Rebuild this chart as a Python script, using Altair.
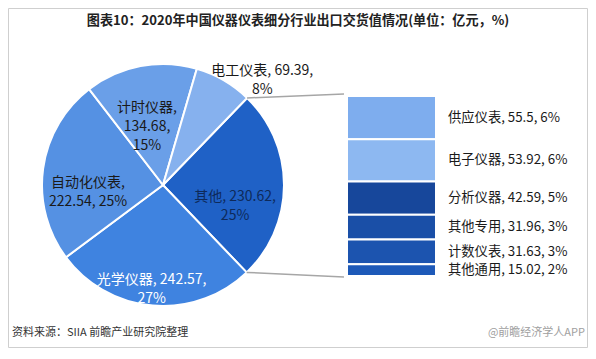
import math
import altair as alt
import pandas as pd

# ---------------- data ----------------
TITLE = "图表10：2020年中国仪器仪表细分行业出口交货值情况(单位：亿元，%)"
SOURCE = "资料来源：SIIA 前瞻产业研究院整理"
CREDIT = "@前瞻经济学人APP"

pie_names = ["其他", "光学仪器", "自动化仪表", "计时仪器", "电工仪表"]
pie_values = [230.62, 242.57, 222.54, 134.68, 69.39]
pie_pcts = [25, 27, 25, 15, 8]

bar_names = ["供应仪表", "电子仪器", "分析仪器", "其他专用", "计数仪表", "其他通用"]
bar_values = [55.5, 53.92, 42.59, 31.96, 31.63, 15.02]
bar_pcts = [6, 6, 5, 3, 3, 2]

# ---------------- layout / style ----------------
W, H = 580, 340
CX, CY, R = 155, 177, 121
START_DEG = 44
BAR_X0, BAR_X1 = 339, 428
BAR_TOP, BAR_BOT = 88, 268
BAR_LABEL_X = 440
FONT = "Noto Sans CJK SC"

PIE_COLORS = ["#1F61C6", "#3F83E0", "#5591E3", "#6A9FE8", "#86B1EE"]
BAR_COLORS = ["#7EADEE", "#8DB8F1", "#17479B", "#1A4FA7", "#1C54AF", "#1D59B8"]

LABEL_FMT = {
    "其他": "{n}, {v},\n{p}%",
    "光学仪器": "{n}, {v},\n{p}%",
    "自动化仪表": "{n},\n{v}, {p}%",
    "计时仪器": "{n},\n{v},\n{p}%",
    "电工仪表": "{n}, {v},\n{p}%",
}
# (radius, angular shift in degrees) of each label relative to slice middle
LABEL_POLAR = {
    "其他": (73, 9),
    "光学仪器": (96, 2),
    "自动化仪表": (75, -6),
    "计时仪器": (79, -1),
    "电工仪表": (151, 11),
}
LABEL_COLOR = {
    "其他": "#0E2A5A",
    "光学仪器": "#FFFFFF",
    "自动化仪表": "#1A1A1A",
    "计时仪器": "#1A1A1A",
    "电工仪表": "#1A1A1A",
}

total = sum(pie_values)
pie_df = pd.DataFrame({
    "name": pie_names,
    "value": pie_values,
    "order": list(range(len(pie_names))),
})

# label positions derived from slice geometry
rows = []
cum = 0.0
for n, v, p in zip(pie_names, pie_values, pie_pcts):
    a0 = START_DEG + 360 * cum / total
    a1 = a0 + 360 * v / total
    cum += v
    rr, da = LABEL_POLAR[n]
    a = math.radians((a0 + a1) / 2 + da)
    rows.append({
        "lx": CX + rr * math.sin(a),
        "ly": CY - rr * math.cos(a),
        "txt": LABEL_FMT[n].format(n=n, v=f"{v:g}", p=p),
        "tc": LABEL_COLOR[n],
    })
lab_df = pd.DataFrame(rows)

# stacked bar (bottom = last item)
bar_total = sum(bar_values)
y0s, y1s = [], []
acc = 0.0
for v in reversed(bar_values):
    y0s.append(acc)
    acc += v
    y1s.append(acc)
y0s.reverse()
y1s.reverse()
bar_df = pd.DataFrame({
    "name": bar_names,
    "value": bar_values,
    "y0": y0s,
    "y1": y1s,
    "ymid": [(a + b) / 2 for a, b in zip(y0s, y1s)],
    "label": [f"{n}, {v:g}, {p}%" for n, v, p in zip(bar_names, bar_values, bar_pcts)],
})

start_rad = math.radians(START_DEG)
theta_scale = alt.Scale(range=[start_rad, start_rad + 2 * math.pi])
y_scale = alt.Scale(domain=[0, bar_total], range=[BAR_BOT, BAR_TOP])

one = pd.DataFrame({"a": [0]})

border = alt.Chart(one).mark_rect(filled=False, stroke="#CFCFCF", strokeWidth=1).encode(
    x=alt.value(0.5), x2=alt.value(W - 0.5), y=alt.value(0.5), y2=alt.value(H - 0.5)
)

arcs = alt.Chart(pie_df).mark_arc(outerRadius=R, stroke="white", strokeWidth=2).encode(
    theta=alt.Theta("value:Q", stack=True, scale=theta_scale),
    color=alt.Color("name:N", scale=alt.Scale(domain=pie_names, range=PIE_COLORS), legend=None),
    order=alt.Order("order:Q"),
    x=alt.value(CX),
    y=alt.value(CY),
)

label_layers = []
for col in sorted(set(LABEL_COLOR.values())):
    label_layers.append(
        alt.Chart(lab_df).transform_filter(alt.datum.tc == col).mark_text(
            font=FONT, fontSize=14, lineBreak="\n", lineHeight=19,
            align="center", baseline="middle", fill=col,
        ).encode(
            x=alt.X("lx:Q", scale=None, axis=None),
            y=alt.Y("ly:Q", scale=None, axis=None),
            text="txt:N",
        )
    )

# connector lines from the "其他" slice edges to the bar
a_start = math.radians(START_DEG)
a_end = math.radians(START_DEG + 360 * pie_values[0] / total)
p1 = (CX + R * math.sin(a_start), CY - R * math.cos(a_start))
p2 = (CX + R * math.sin(a_end), CY - R * math.cos(a_end))
conn1 = alt.Chart(one).mark_rule(color="#A6A6A6", strokeWidth=1.5).encode(
    x=alt.value(p1[0]), y=alt.value(p1[1]), x2=alt.value(BAR_X0 - 3), y2=alt.value(BAR_TOP - 2)
)
conn2 = alt.Chart(one).mark_rule(color="#A6A6A6", strokeWidth=1.5).encode(
    x=alt.value(p2[0]), y=alt.value(p2[1]), x2=alt.value(BAR_X0 - 3), y2=alt.value(BAR_BOT + 1)
)

bars = alt.Chart(bar_df).mark_rect(stroke="white", strokeWidth=2).encode(
    x=alt.value(BAR_X0), x2=alt.value(BAR_X1),
    y=alt.Y("y0:Q", scale=y_scale, axis=None),
    y2="y1:Q",
    fill=alt.Fill("name:N", scale=alt.Scale(domain=bar_names, range=BAR_COLORS), legend=None),
)

bar_labels = alt.Chart(bar_df).mark_text(
    font=FONT, fontSize=13.3, align="left", baseline="middle", color="#1A1A1A"
).encode(
    x=alt.value(BAR_LABEL_X),
    y=alt.Y("ymid:Q", scale=y_scale, axis=None),
    text="label:N",
)

title = alt.Chart(one).mark_text(
    text=TITLE, font=FONT, fontSize=13.1, fontWeight="bold", color="#222222",
    align="center", baseline="middle",
).encode(x=alt.value(W / 2), y=alt.value(13))

source = alt.Chart(one).mark_text(
    text=SOURCE, font=FONT, fontSize=11, color="#333333", align="left", baseline="middle",
).encode(x=alt.value(4), y=alt.value(325))

credit = alt.Chart(one).mark_text(
    text=CREDIT, font=FONT, fontSize=11, color="#A0A0A0", align="right", baseline="middle",
).encode(x=alt.value(W - 3), y=alt.value(325))

chart = alt.layer(
    border, arcs, *label_layers, conn1, conn2, bars, bar_labels, title, source, credit
).properties(
    width=W, height=H, padding=0, background="white",
    autosize=alt.AutoSizeParams(type="none"),
).configure_view(stroke=None)

chart.save("out.html", embed_options={"renderer": "svg", "actions": False})
